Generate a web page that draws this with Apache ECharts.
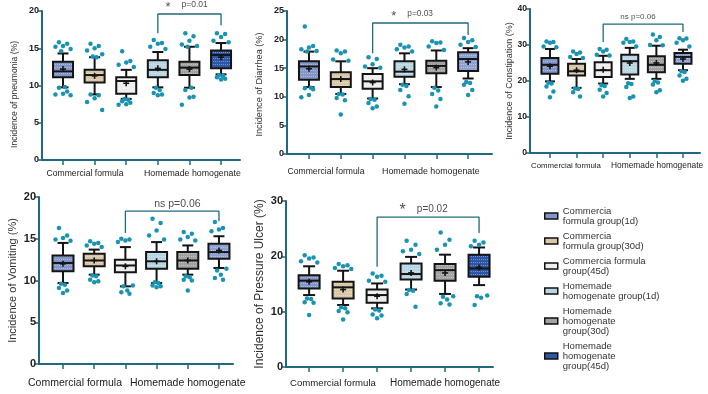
<!DOCTYPE html>
<html><head><meta charset="utf-8">
<script src="https://cdn.jsdelivr.net/npm/echarts@6/dist/echarts.min.js"></script>
<style>html,body{margin:0;padding:0;background:#fff}#c{width:708px;height:394px}</style>
</head><body><div id="c"></div>
<script>
// ---------- DATA ----------
const groups = ['Commercia\nformula group(1d)', 'Commercia\nformula group(30d)', 'Commercia formula\ngroup(45d)',
  'Homemade\nhomogenate group(1d)', 'Homemade\nhomogenate\ngroup(30d)', 'Homemade\nhomogenate\ngroup(45d)'];
const groupLabels = ['Commercial formula', 'Homemade homogenate'];
const panelTitles = ['Incidence of pneumonia (%)', 'Incidence of Diarrhea (%)', 'Incidence of Constipation (%)',
  'Incidence of Vomiting (%)', 'Incidence of Pressure Ulcer (%)'];
const sigTexts = [['*', 'p=0.01'], ['*', 'p=0.03'], ['', 'ns p=0.06'], ['', 'ns p=0.06'], ['*', 'p=0.02']];
// box stats: [lowWhisker, Q1, median, Q3, highWhisker, mean]
const pneumoniaBoxes = [[9.75,11.1,11.9,13.2,14.3,12.2],[8.8,10.4,11.4,12.1,13.8,11.3],[8.2,8.9,10.6,11.1,12.1,10.3],
  [9.75,11.1,12.1,13.4,14.5,12.3],[9.7,11.4,12.4,13.2,15.2,12.2],[11.5,12.3,14.1,14.7,15.7,13.8]];
const diarrheaBoxes = [[11.7,13.0,15.3,16.2,17.9,14.9],[10.5,11.7,13.1,14.3,16.2,13.1],[9.7,11.4,12.7,14.0,15.0,12.5],
  [12.2,13.5,14.4,16.2,17.6,14.8],[11.7,14.1,15.4,16.3,18.1,15.1],[13.2,14.5,16.6,17.8,18.5,16.1]];
const constipationBoxes = [[19.9,22.0,24.5,26.4,28.9,24.1],[18.1,21.5,22.7,24.8,26.1,23.0],[19.3,21.1,23.0,25.2,27.0,23.1],
  [20.6,21.8,25.5,27.3,29.2,25.0],[20.6,22.4,24.5,26.9,29.8,25.0],[23.0,24.8,26.7,27.8,28.7,26.1]];
const vomitingBoxes = [[9.7,11.1,12.1,13.0,14.5,12.0],[10.7,11.7,12.4,13.2,13.7,12.4],[9.3,11.0,11.8,12.5,14.0,11.7],
  [9.7,11.4,12.3,13.4,14.6,12.3],[10.7,11.4,12.4,13.4,14.2,12.4],[11.5,12.6,13.4,14.4,15.3,13.6]];
const ulcerBoxes = [[13.0,14.2,15.6,16.6,18.2,15.4],[11.2,12.4,14.4,15.4,17.4,14.0],[10.6,11.6,13.0,14.0,15.1,12.8],
  [14.0,15.8,16.8,18.7,19.9,17.0],[13.2,15.6,17.5,18.6,20.3,17.0],[14.8,16.3,17.8,20.3,21.6,18.0]];
// individual points outside the whiskers (per group)
const pneumoniaPoints = [
  [15.8,15.6,15.3,15.2,14.9,14.6,9.8,9.7,9.2,8.9,8.8,8.7],
  [15.6,15.3,15.0,14.7,14.2,13.9,13.8,8.8,8.7,8.3,7.8,6.7],
  [14.6,13.3,13.1,12.8,12.5,8.2,8.1,7.9,7.7,7.5,7.4],
  [16.1,15.7,15.6,15.2,14.9,9.7,9.4,9.0,8.8,8.7],
  [17.0,16.6,16.0,15.5,15.3,15.2,9.7,9.4,8.5,8.4,7.4],
  [17.0,16.9,16.5,16.0,15.8,11.4,11.3,11.1,10.9,10.8]];
const diarrheaPoints = [
  [22.3,18.9,18.6,18.3,18.0,17.9,11.6,11.5,11.3,10.3,9.9],
  [18.1,17.9,17.6,16.5,16.3,10.5,10.4,9.8,9.4,6.9],
  [16.9,16.6,15.7,15.3,15.1,9.6,9.5,8.9,8.3,8.0],
  [19.1,18.8,18.6,18.3,17.9,12.1,11.9,11.2,10.1,8.8],
  [19.7,19.5,19.4,18.8,18.2,11.6,11.1,10.5,9.6,8.3],
  [20.3,19.9,19.6,19.1,18.7,12.6,12.4,12.1,11.2,10.3]];
const constipationPoints = [
  [31.0,30.8,30.6,29.6,29.4,19.5,19.3,18.5,17.1,15.5],
  [28.2,27.9,27.5,26.7,26.4,17.9,17.8,16.9,15.7],
  [28.9,28.7,28.2,27.3,27.1,18.8,18.6,17.6,16.7,15.7],
  [31.7,31.0,30.8,30.6,29.6,19.4,19.2,18.3,15.7,15.3],
  [32.9,32.2,31.3,30.0,29.9,19.9,19.6,19.0,17.4,16.9],
  [31.9,31.8,31.3,30.6,29.6,22.7,22.5,21.5,20.6,20.1]];
const vomitingPoints = [
  [16.3,15.4,15.1,14.9,14.75,9.6,9.5,9.1,8.8,8.5],
  [14.7,14.5,14.4,14.2,14.0,10.6,10.5,10.1,9.9,9.8],
  [15.0,14.9,14.8,14.6,9.4,9.3,8.8,8.6,8.4],
  [17.4,16.9,16.0,15.4,14.9,9.8,9.7,9.4,9.3,9.2],
  [15.8,15.6,15.2,14.9,14.8,10.5,10.4,10.1,10.0,8.8],
  [17.0,16.3,16.1,15.9,11.4,11.2,10.7,10.3,10.1]];
const ulcerPoints = [
  [20.2,19.8,19.6,19.1,18.9,12.4,12.3,11.7,11.6,9.4],
  [18.6,18.4,18.2,17.9,17.7,10.8,10.6,10.1,9.9,8.6],
  [16.9,16.5,16.3,15.6,15.4,10.4,10.2,9.5,9.3,8.8],
  [22.8,22.1,21.2,20.9,20.4,13.9,13.8,13.2,10.9],
  [24.3,23.0,22.1,21.2,12.8,12.7,12.2,11.5,11.3],
  [22.8,22.5,22.1,21.8,12.9,12.8,12.5,11.2]];
// significance brackets: [fromGroup, toGroup, top, leftLegEnd, rightLegEnd]
const brackets = [[4,6,19.6,17.0,18.1],[3,6,22.9,17.6,20.8],[3,6,35.8,30.8,33.6],[3,6,18.3,15.7,17.1],[3,6,27.1,18.1,24.2]];

// ---------- STYLE / LAYOUT ----------
const FONT = '"Liberation Sans", Arial, sans-serif';
const AXIS = '#1f6a7e';
const DOT = '#1a93b3';
const fills = ['#8396c9', '#d8c8a8', '#eeeeee', '#b9d6e3', '#a2a2a2'];
const darkBlue = '#2d57a6', slate = '#8ea2d2';
const panels = [
  {boxes: pneumoniaBoxes, pts: pneumoniaPoints, yMax: 20, yInt: 5, grid: {left: 42, top: 11, width: 198, height: 149},
   xMin: 0.335, xMax: 6.6, bw: 20, cw: 11, tick: 9, nameSize: 8.6, nameGap: 23, namePad: [0, 18, 0, 0], g6: darkBlue, sigX: 4.91, sigSize: 8.5, starSize: 13, sp: 3},
  {boxes: diarrheaBoxes, pts: diarrheaPoints, yMax: 25, yInt: 5, grid: {left: 287, top: 11, width: 205, height: 143},
   xMin: 0.31, xMax: 6.75, bw: 20, cw: 11, tick: 9, nameSize: 9.2, nameGap: 23, namePad: [0, 4, 0, 0], g6: slate, sigX: 4.24, sigSize: 8.3, starSize: 13, sp: 3},
  {boxes: constipationBoxes, pts: constipationPoints, yMax: 40, yInt: 10, grid: {left: 530, top: 9, width: 170, height: 144},
   xMin: 0.25, xMax: 6.64, bw: 17, cw: 10, tick: 8.5, nameSize: 9, nameGap: 16, namePad: 0, g6: slate, sigX: 4.31, sigSize: 8, starSize: 12, sp: 3},
  {boxes: vomitingBoxes, pts: vomitingPoints, yMax: 20, yInt: 5, grid: {left: 39, top: 197, width: 194, height: 167},
   xMin: 0.23, xMax: 6.45, bw: 21, cw: 11, tick: 11, nameSize: 11, nameGap: 21, namePad: 0, g6: slate, sigX: 4.67, sigSize: 10.5, starSize: 15, sp: 2},
  {boxes: ulcerBoxes, pts: ulcerPoints, yMax: 30, yInt: 10, grid: {left: 286, top: 201, width: 207, height: 166},
   xMin: 0.32, xMax: 6.41, bw: 21, cw: 12, tick: 11, nameSize: 12, nameGap: 20, namePad: 0, g6: darkBlue, sigX: 4.37, sigSize: 10, starSize: 16, sp: 1}
];
const jitter = [-0.13, 0.13, 0, -0.24, 0.24, -0.06, 0.06];
const groupText = [
  [{x: 85, y: 174, s: 8.6, a: 'center'}, {x: 144, y: 174, s: 8.8, a: 'left'}],
  [{x: 326, y: 172, s: 8.6, a: 'center'}, {x: 382, y: 172, s: 8.9, a: 'left'}],
  [{x: 566, y: 166, s: 7.8, a: 'center'}, {x: 611, y: 166, s: 8.4, a: 'left'}],
  [{x: 75, y: 383, s: 10.5, a: 'center'}, {x: 130, y: 383, s: 10.5, a: 'left'}],
  [{x: 333, y: 383, s: 9.6, a: 'center'}, {x: 390, y: 383, s: 10, a: 'left'}]
];

function pattern(color) {
  const c = document.createElement('canvas'); c.width = 4; c.height = 3;
  const g = c.getContext('2d');
  g.fillStyle = color; g.fillRect(0, 0, 4, 3);
  g.fillStyle = 'rgba(255,255,255,0.35)'; g.fillRect(1, 1, 1, 1); g.fillRect(3, 1, 1, 1);
  return {image: c, repeat: 'repeat'};
}

function makeRender(bw, cw, fill) {
  return function (params, api) {
    const x = api.value(0);
    const c = v => api.coord([x, v]);
    const lo = c(api.value(1)), q1 = c(api.value(2)), md = c(api.value(3)), q3 = c(api.value(4)), hi = c(api.value(5)), mn = c(api.value(6));
    const cx = lo[0];
    const st = {stroke: '#141414', lineWidth: 2};
    const ln = (x1, y1, x2, y2, w) => ({type: 'line', shape: {x1, y1, x2, y2}, style: {stroke: '#141414', lineWidth: w || 2}});
    return {type: 'group', children: [
      ln(cx, q1[1], cx, lo[1]), ln(cx, q3[1], cx, hi[1]),
      ln(cx - cw / 2, lo[1], cx + cw / 2, lo[1]), ln(cx - cw / 2, hi[1], cx + cw / 2, hi[1]),
      {type: 'rect', shape: {x: cx - bw / 2, y: q3[1], width: bw, height: q1[1] - q3[1]}, style: Object.assign({fill: fill}, st)},
      ln(cx - bw / 2, md[1], cx + bw / 2, md[1], 2),
      ln(cx - 3, mn[1], cx + 3, mn[1], 1.6), ln(cx, mn[1] - 3, cx, mn[1] + 3, 1.6)
    ]};
  };
}

const grids = [], xAxes = [], yAxes = [], series = [], graphics = [];
panels.forEach((p, pi) => {
  grids.push(p.grid);
  xAxes.push({type: 'value', gridIndex: pi, min: p.xMin, max: p.xMax, splitLine: {show: false},
    axisLine: {show: true, onZero: false, lineStyle: {color: AXIS, width: 2}},
    axisTick: {show: true, customValues: [1, 2, 3, 4, 5, 6], length: 5, lineStyle: {color: AXIS, width: 1.5}},
    axisLabel: {show: false}});
  yAxes.push({type: 'value', gridIndex: pi, min: 0, max: p.yMax, interval: p.yInt, splitLine: {show: false},
    axisLine: {show: true, lineStyle: {color: AXIS, width: 2}},
    axisTick: {show: true, length: 4, lineStyle: {color: AXIS, width: 1.5}},
    axisLabel: {fontSize: p.tick, fontWeight: 'bold', color: '#222', fontFamily: FONT, margin: 3},
    name: panelTitles[pi], nameLocation: 'middle', nameGap: p.nameGap,
    nameTextStyle: {fontSize: p.nameSize, color: '#333', fontFamily: FONT, padding: p.namePad}});
  for (let g = 0; g < 6; g++) {
    const b = p.boxes[g];
    const color = g === 5 ? p.g6 : fills[g];
    series.push({type: 'custom', name: groups[g], xAxisIndex: pi, yAxisIndex: pi, z: 2,
      itemStyle: {color: color}, renderItem: makeRender(p.bw, p.cw, pattern(color)),
      encode: {x: 0, y: [1, 2, 3, 4, 5, 6]},
      data: [[g + 1, b[0], b[1], b[2], b[3], b[4], b[5]]], silent: true});
  }
  const ptsData = [];
  p.pts.forEach((arr, g) => arr.forEach((v, k) => ptsData.push([g + 1 + jitter[k % jitter.length], v])));
  series.push({type: 'scatter', xAxisIndex: pi, yAxisIndex: pi, z: 3, symbolSize: 4.5, silent: true,
    itemStyle: {color: DOT, opacity: 1}, data: ptsData});
  const br = brackets[pi];
  series.push({type: 'line', xAxisIndex: pi, yAxisIndex: pi, clip: false, symbol: 'none', silent: true, z: 4,
    lineStyle: {color: AXIS, width: 1.3},
    data: [[br[0], br[3]], [br[0], br[2]], [br[1], br[2]], [br[1], br[4]]]});
  const st = sigTexts[pi];
  series.push({type: 'scatter', xAxisIndex: pi, yAxisIndex: pi, clip: false, symbolSize: 0, silent: true, z: 5,
    data: [[p.sigX, br[2]]],
    label: {show: true, position: 'top', distance: p.sp,
      formatter: st[0] ? '{s|' + st[0] + '}{g|}{p|' + st[1] + '}' : '{p|' + st[1] + '}',
      rich: {s: {fontSize: p.starSize, color: '#222', fontFamily: FONT, verticalAlign: 'bottom', padding: [0, 0, -3, 0]},
        g: {width: 11}, p: {fontSize: p.sigSize, color: '#222', fontFamily: FONT}}}});
  groupText[pi].forEach((t, k) => {
    graphics.push({type: 'text', silent: true, style: {text: groupLabels[k], x: t.x, y: t.y, fontSize: t.s,
      fontFamily: FONT, fill: '#222', textAlign: t.a, textVerticalAlign: 'middle'}});
  });
});

const legendData = groups.map((n, g) => ({name: n, icon: 'rect',
  itemStyle: {color: g === 5 ? darkBlue : fills[g], borderColor: '#111', borderWidth: 1.5}}));

const chart = echarts.init(document.getElementById('c'), null, {renderer: 'canvas'});
chart.setOption({
  animation: false,
  grid: grids, xAxis: xAxes, yAxis: yAxes, series: series, graphic: graphics,
  legend: {orient: 'vertical', left: 539, top: 201, itemWidth: 13, itemHeight: 6, itemGap: 5, selectedMode: false,
    data: legendData, textStyle: {fontSize: 9.5, lineHeight: 10, color: '#333', fontFamily: FONT}}
});
</script></body></html>
